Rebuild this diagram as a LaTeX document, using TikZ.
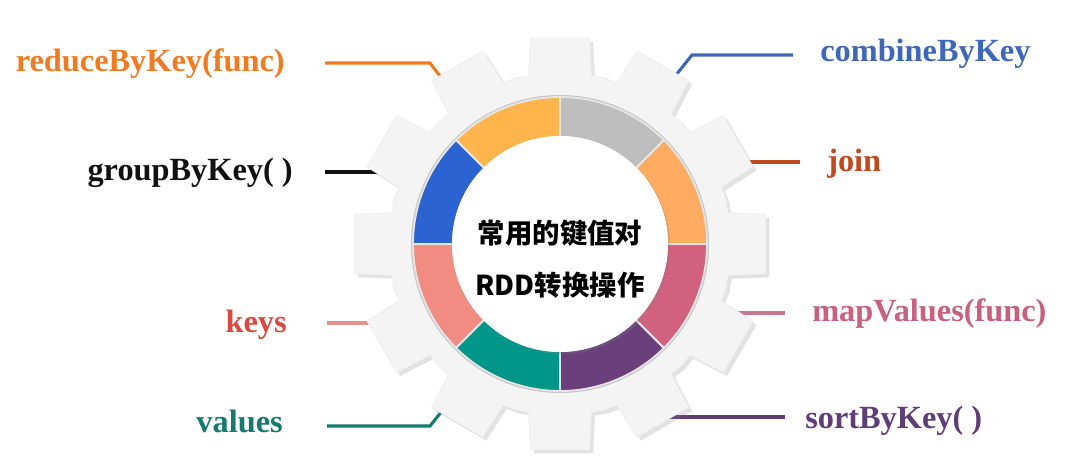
\documentclass[tikz,border=0pt]{standalone}
\usepackage{fontspec}
\setmainfont{Liberation Serif}
\newfontfamily\cjk{Noto Sans CJK SC}
\usetikzlibrary{shadows}
\definecolor{cReduce}{HTML}{F07B22}
\definecolor{cGroup}{HTML}{111111}
\definecolor{cCombine}{HTML}{3D68BA}
\definecolor{cJoin}{HTML}{C04A1E}
\definecolor{cKeys}{HTML}{D94A40}
\definecolor{cKeysLine}{HTML}{E8908A}
\definecolor{cValues}{HTML}{167A70}
\definecolor{cMap}{HTML}{C8607E}
\definecolor{cMapLine}{HTML}{C87890}
\definecolor{cSort}{HTML}{5E3D78}
\definecolor{segYellow}{HTML}{FFB54C}
\definecolor{segGray}{HTML}{BEBEBE}
\definecolor{segOrange}{HTML}{FFAB62}
\definecolor{segPink}{HTML}{D2607F}
\definecolor{segPurple}{HTML}{6B3F7C}
\definecolor{segTeal}{HTML}{00978A}
\definecolor{segSalmon}{HTML}{F28B82}
\definecolor{segBlue}{HTML}{2B63D1}
\definecolor{gearFill}{HTML}{F4F4F4}
\begin{document}
\begin{tikzpicture}[x=0.025cm,y=0.025cm,
  lbl/.style={font=\fontsize{23}{26}\selectfont\bfseries, inner sep=0pt},
  conn/.style={line width=2.2pt},
  seg/.style={draw=white!80!gray, line width=1.3pt}]
\useasboundingbox[fill=white] (0,0) rectangle (1084,-466);

% labels
\node[lbl, text=cReduce, anchor=base east] (reduce) at (285,-71) {reduceByKey(func)};
\node[lbl, text=cGroup, anchor=base east] (group) at (293,-180) {groupByKey( )};
\node[lbl, text=cKeys, anchor=base east] (keys) at (287,-332) {keys};
\node[lbl, text=cValues, anchor=base east] (values) at (283,-432) {values};
\node[lbl, text=cCombine, anchor=base west] (combine) at (820,-62) {combineByKey};
\node[lbl, text=cJoin, anchor=base west] (join) at (827,-171) {join};
\node[lbl, text=cMap, anchor=base west] (map) at (812,-321) {mapValues(func)};
\node[lbl, text=cSort, anchor=base west] (sort) at (805,-428) {sortByKey( )};

% connector coordinates
\coordinate (r1) at (325,-63); \coordinate (r2) at (430,-63); \coordinate (r3) at (446,-84);
\coordinate (g1) at (325,-172); \coordinate (g2) at (410,-172);
\coordinate (k1) at (327,-323); \coordinate (k2) at (400,-323);
\coordinate (v1) at (327,-426); \coordinate (v2) at (430,-426); \coordinate (v3) at (446,-406);
\coordinate (c1) at (793,-55); \coordinate (c2) at (692,-55); \coordinate (c3) at (672,-80);
\coordinate (j1) at (800,-162); \coordinate (j2) at (720,-162);
\coordinate (m1) at (785,-313); \coordinate (m2) at (710,-313);
\coordinate (s1) at (785,-417); \coordinate (s2) at (660,-417);

\draw[conn, cReduce] (r1) -- (r2) -- (r3);
\draw[conn, cGroup] (g1) -- (g2);
\draw[conn, cKeysLine] (k1) -- (k2);
\draw[conn, cValues] (v1) -- (v2) -- (v3);
\draw[conn, cCombine] (c1) -- (c2) -- (c3);
\draw[conn, cJoin] (j1) -- (j2);
\draw[conn, cMapLine] (m1) -- (m2);
\draw[conn, cSort] (s1) -- (s2);

% gear
\begin{scope}[shift={(560,-244)}]
\path[fill=gearFill, draw=gray!15, line width=0.4pt,
      drop shadow={shadow xshift=2.5pt, shadow yshift=-2.5pt, opacity=0.22, fill=gray}]
  (-8.2:208)
  \foreach \a in {0,30,...,330}{
    -- (\a-8.2:208) -- (\a+8.2:208) -- (\a+10.6:171) -- (\a+15:172) -- (\a+19.4:171)
  } -- cycle;
\fill[gray!45] (0,0) circle[radius=149];
\foreach \s/\c in {0/segOrange,45/segGray,90/segYellow,135/segBlue,180/segSalmon,225/segTeal,270/segPurple,315/segPink}{
  \path[fill=\c, seg] (\s:107) -- (\s:147) arc[start angle=\s, end angle=\s+45, radius=147]
     -- (\s+45:107) arc[start angle=\s+45, end angle=\s, radius=107] -- cycle;
}
\fill[white, drop shadow={shadow xshift=1.5pt, shadow yshift=-1.5pt, opacity=0.25, fill=gray}] (0,0) circle[radius=108];
\end{scope}

\node[font=\cjk\bfseries\fontsize{19.5}{22}\selectfont, inner sep=0pt] (t1) at (560,-233) {常用的键值对};
\node[font=\cjk\bfseries\fontsize{19.5}{22}\selectfont, inner sep=0pt] (t2) at (560,-285) {RDD转换操作};
\end{tikzpicture}
\end{document}
